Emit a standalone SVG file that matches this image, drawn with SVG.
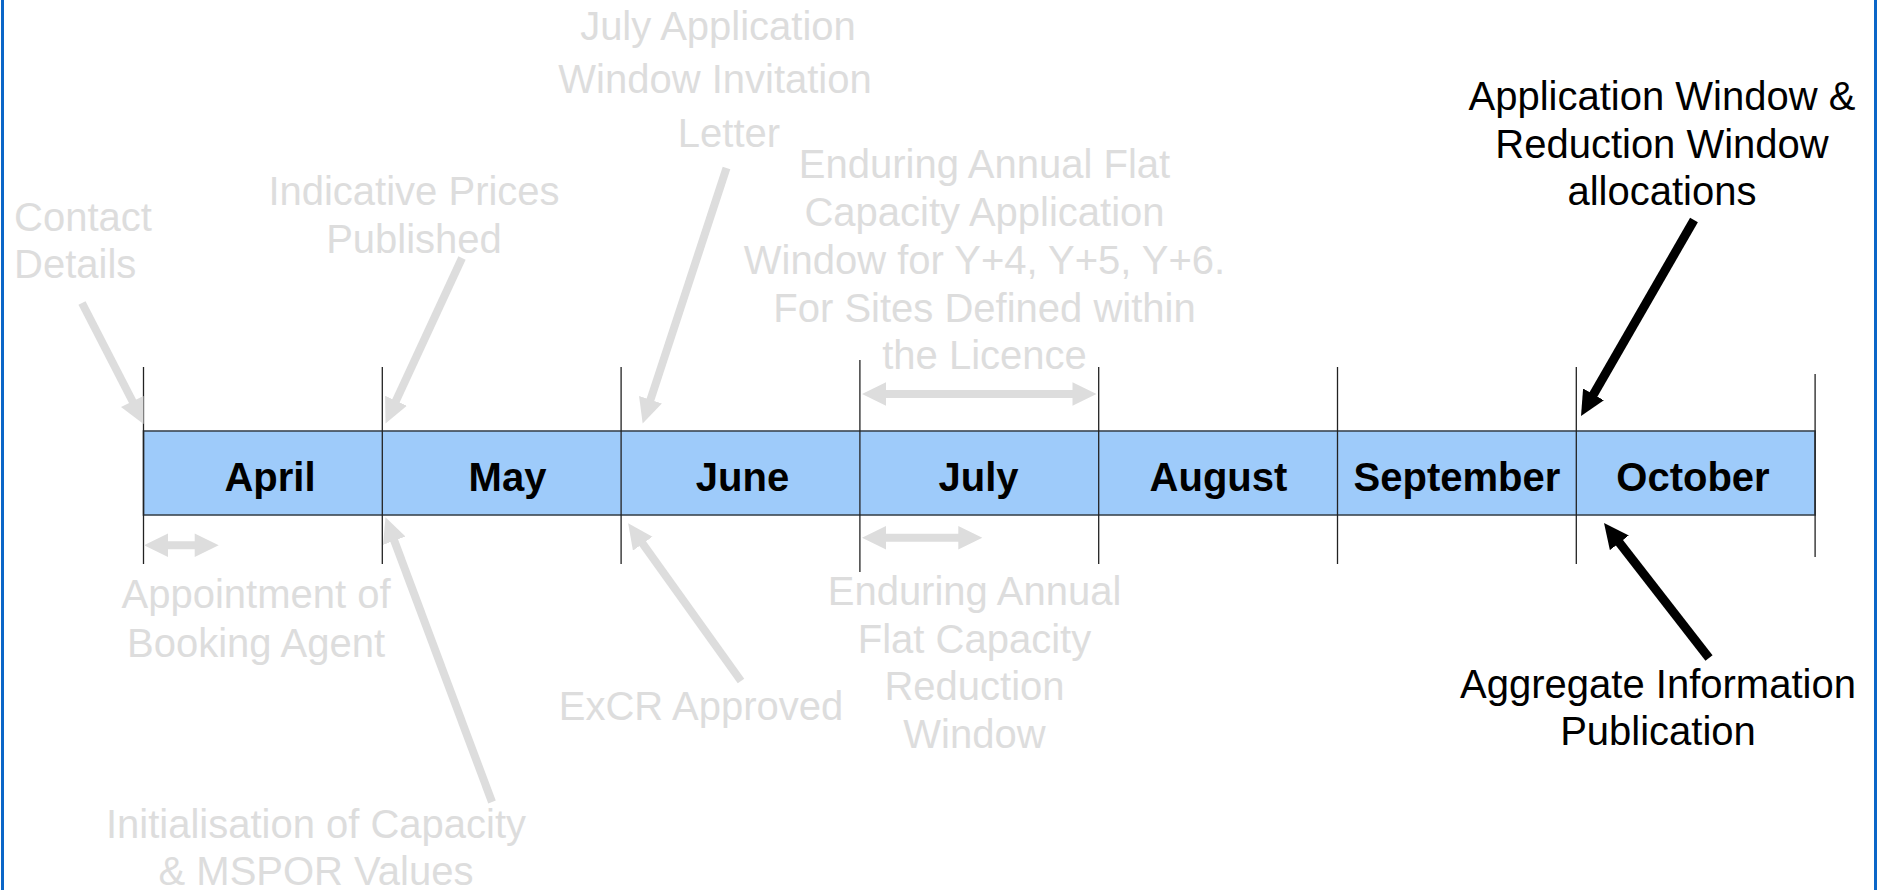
<svg xmlns="http://www.w3.org/2000/svg" width="1877" height="890" viewBox="0 0 1877 890">
<style>
  .g { font-family: "Liberation Sans", Arial, sans-serif; font-size: 40px; fill: #dddddd; text-anchor: middle; }
  .b { font-family: "Liberation Sans", Arial, sans-serif; font-size: 40px; fill: #000000; text-anchor: middle; }
  .m { font-family: "Liberation Sans", Arial, sans-serif; font-size: 40px; font-weight: bold; fill: #000000; text-anchor: middle; }
  .tick { stroke: #222222; stroke-width: 1.3; }
  .ga { stroke: #dddddd; stroke-width: 8; fill: none; }
  .ka { stroke: #000000; stroke-width: 9; fill: none; }
  .gf { fill: #dddddd; }
</style>
<defs>
  <marker id="hg" markerUnits="userSpaceOnUse" markerWidth="26" markerHeight="26" refX="5" refY="12" orient="auto">
    <path d="M0,0 L25,12 L0,24 z" fill="#dddddd"/>
  </marker>
  <marker id="hk" markerUnits="userSpaceOnUse" markerWidth="26" markerHeight="26" refX="5" refY="12" orient="auto">
    <path d="M0,0 L25,12 L0,24 z" fill="#000000"/>
  </marker>
</defs>
<rect x="0" y="0" width="1877" height="890" fill="#ffffff"/>
<rect x="1" y="0" width="3" height="890" fill="#0a66c8"/>
<rect x="1874" y="0" width="3" height="890" fill="#0a66c8"/>

<g id="timeline">
  <rect x="143.5" y="431" width="1671.6" height="84" fill="#9ecbfa" stroke="#3b4651" stroke-width="1.6"/>
  <line class="tick" x1="143.5" y1="367" x2="143.5" y2="564"/>
  <line class="tick" x1="382.3" y1="367" x2="382.3" y2="564"/>
  <line class="tick" x1="621.1" y1="367" x2="621.1" y2="564"/>
  <line class="tick" x1="859.9" y1="360" x2="859.9" y2="572"/>
  <line class="tick" x1="1098.7" y1="367" x2="1098.7" y2="564"/>
  <line class="tick" x1="1337.5" y1="367" x2="1337.5" y2="564"/>
  <line class="tick" x1="1576.3" y1="367" x2="1576.3" y2="564"/>
  <line class="tick" x1="1815.1" y1="374" x2="1815.1" y2="557"/>
</g>
<g id="month-april"><text class="m" x="270" y="491">April</text></g>
<g id="month-may"><text class="m" x="507.5" y="491">May</text></g>
<g id="month-june"><text class="m" x="742.5" y="491">June</text></g>
<g id="month-july"><text class="m" x="978.5" y="491">July</text></g>
<g id="month-august"><text class="m" x="1218.5" y="491">August</text></g>
<g id="month-september"><text class="m" x="1456.9" y="491">September</text></g>
<g id="month-october"><text class="m" x="1693" y="491">October</text></g>

<g id="label-contact">
  <text class="g" style="text-anchor:start" x="14" y="231">Contact</text>
  <text class="g" style="text-anchor:start" x="14" y="278">Details</text>
</g>
<g id="label-indicative">
  <text class="g" x="414" y="205">Indicative Prices</text>
  <text class="g" x="414" y="253">Published</text>
</g>
<g id="label-july-letter">
  <text class="g" x="718" y="40">July Application</text>
  <text class="g" x="715" y="93">Window Invitation</text>
  <text class="g" x="729" y="147">Letter</text>
</g>
<g id="label-application-window">
  <text class="g" x="984.5" y="178">Enduring Annual Flat</text>
  <text class="g" x="984.5" y="226">Capacity Application</text>
  <text class="g" x="984.5" y="274">Window for Y+4, Y+5, Y+6.</text>
  <text class="g" x="984.5" y="321.5">For Sites Defined within</text>
  <text class="g" x="984.5" y="369">the Licence</text>
</g>
<g id="label-booking-agent">
  <text class="g" x="256" y="608">Appointment of</text>
  <text class="g" x="256" y="656.5">Booking Agent</text>
</g>
<g id="label-initialisation">
  <text class="g" x="316" y="838">Initialisation of Capacity</text>
  <text class="g" x="316" y="885">&amp; MSPOR Values</text>
</g>
<g id="label-excr">
  <text class="g" x="701" y="720">ExCR Approved</text>
</g>
<g id="label-reduction-window">
  <text class="g" x="974.5" y="605">Enduring Annual</text>
  <text class="g" x="974.5" y="652.5">Flat Capacity</text>
  <text class="g" x="974.5" y="700">Reduction</text>
  <text class="g" x="974.5" y="747.5">Window</text>
</g>
<g id="label-allocations">
  <text class="b" x="1662" y="110">Application Window &amp;</text>
  <text class="b" x="1662" y="157.5">Reduction Window</text>
  <text class="b" x="1662" y="205">allocations</text>
</g>
<g id="label-aggregate">
  <text class="b" x="1658" y="698">Aggregate Information</text>
  <text class="b" x="1658" y="745">Publication</text>
</g>

<g id="connectors">
  <line class="ga" x1="82" y1="303" x2="136" y2="408"/>
  <polygon class="gf" points="121,407 143.5,424 143.5,396"/>
  <line class="ga" x1="462" y1="258" x2="393.9" y2="405.3" marker-end="url(#hg)"/>
  <line class="ga" x1="726.5" y1="168" x2="648.9" y2="404.5" marker-end="url(#hg)"/>
  <line class="ga" x1="492" y1="802" x2="392.5" y2="536" marker-end="url(#hg)"/>
  <line class="ga" x1="741" y1="681" x2="639.8" y2="539.6" marker-end="url(#hg)"/>
  <line class="ka" x1="1694" y1="220" x2="1591" y2="398.7" marker-end="url(#hk)"/>
  <line class="ka" x1="1709" y1="658" x2="1616.3" y2="538.8" marker-end="url(#hk)"/>
  <polygon class="gf" points="862,394 886,382.3 886,390 1072.5,390 1072.5,382.3 1096.5,394 1072.5,405.7 1072.5,398 886,398 886,405.7"/>
  <polygon class="gf" points="144,545.3 168,533.6 168,541.3 194.7,541.3 194.7,533.6 218.7,545.3 194.7,557 194.7,549.3 168,549.3 168,557"/>
  <polygon class="gf" points="862,537.7 886,526 886,533.7 958.3,533.7 958.3,526 982.3,537.7 958.3,549.4 958.3,541.7 886,541.7 886,549.4"/>
</g>
</svg>
